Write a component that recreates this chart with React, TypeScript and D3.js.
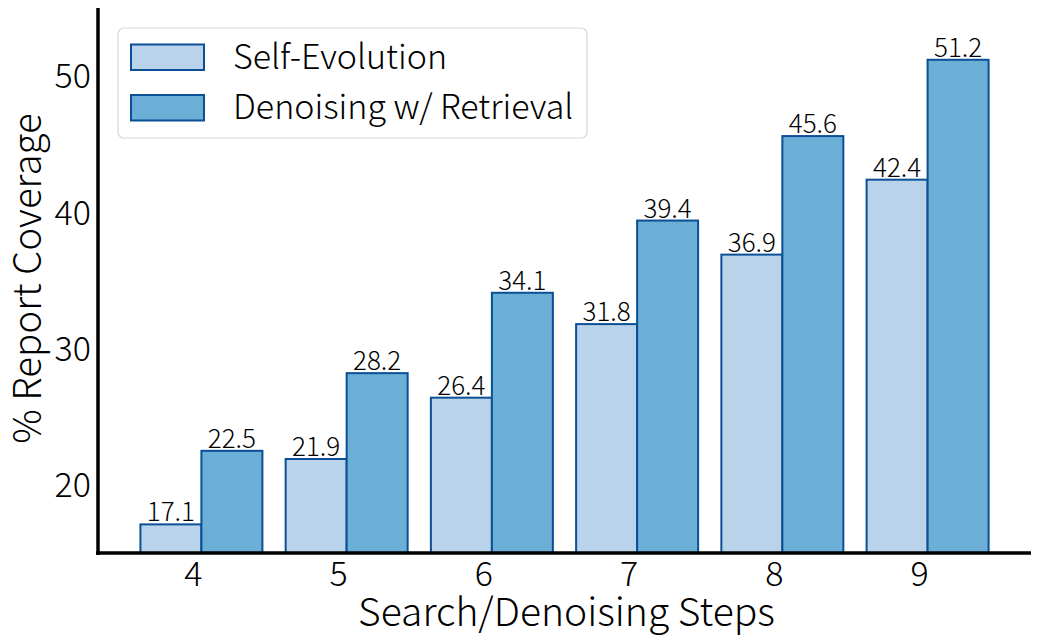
import React from "react";
import * as d3 from "d3";

const steps = [4, 5, 6, 7, 8, 9];
const selfEvolution = [17.1, 21.9, 26.4, 31.8, 36.9, 42.4];
const denoising = [22.5, 28.2, 34.1, 39.4, 45.6, 51.2];
const yTicks = [20, 30, 40, 50];
const seriesNames = ["Self-Evolution", "Denoising w/ Retrieval"];

const W = 1039;
const H = 642;
const FONT = "'Noto Sans CJK KR', 'Noto Sans', sans-serif";
const BAR_W = 0.42;
const colors = ["#b9d4ea", "#6baed6"];
const edge = "#0b4f96";

export default function App() {
  const left = 98, right = 1031, top = 8, bottom = 553;
  const x = d3.scaleLinear().domain([3.288, 9.712]).range([left, right]);
  const y = d3.scaleLinear().domain([15, 55]).range([bottom, top]);
  const bw = x(BAR_W) - x(0);
  const series = [selfEvolution, denoising];

  return (
    <svg width={W} height={H} style={{ position: "absolute", left: 0, top: 0, background: "#fff" }} fontFamily={FONT} fontWeight={300}>
      {series.map((vals, si) =>
        vals.map((v, i) => {
          const x0 = si === 0 ? x(steps[i] - BAR_W) : x(steps[i]);
          return (
            <g key={`${si}-${i}`}>
              <rect x={x0} y={y(v)} width={bw} height={y(15) - y(v)} fill={colors[si]} stroke={edge} strokeWidth={2} />
              <text x={x0 + bw / 2} y={y(v) - 3} textAnchor="middle" fontSize={26} fill="#000">
                {v.toFixed(1)}
              </text>
            </g>
          );
        })
      )}
      {/* spines */}
      <line x1={left} x2={left} y1={top} y2={bottom + 2} stroke="#000" strokeWidth={3.5} />
      <line x1={left - 2} x2={right} y1={bottom} y2={bottom} stroke="#000" strokeWidth={3.5} />
      {/* y ticks */}
      {yTicks.map((t) => (
        <text key={t} x={left - 7} y={y(t)} dy="0.36em" textAnchor="end" fontSize={34} fill="#000">
          {t}
        </text>
      ))}
      {/* x ticks */}
      {steps.map((s) => (
        <text key={s} x={x(s) - 8} y={bottom + 33} textAnchor="middle" fontSize={34} fill="#000">
          {s}
        </text>
      ))}
      <text x={(left + right) / 2 + 2} y={626} textAnchor="middle" fontSize={39} fill="#000">
        Search/Denoising Steps
      </text>
      <text transform={`translate(${41},${(top + bottom) / 2 - 2}) rotate(-90)`} textAnchor="middle" fontSize={38.5} fill="#000">
        % Report Coverage
      </text>
      {/* legend */}
      <rect x={118} y={28} width={469} height={110} rx={6} fill="#fff" stroke="#d8d8d8" strokeWidth={1.2} />
      {seriesNames.map((n, i) => (
        <g key={n}>
          <rect x={131} y={44.5 + i * 50.5} width={73} height={25.5} fill={colors[i]} stroke={edge} strokeWidth={2} />
          <text x={233} y={68.5 + i * 50.5} fontSize={34} fill="#000">
            {n}
          </text>
        </g>
      ))}
    </svg>
  );
}
